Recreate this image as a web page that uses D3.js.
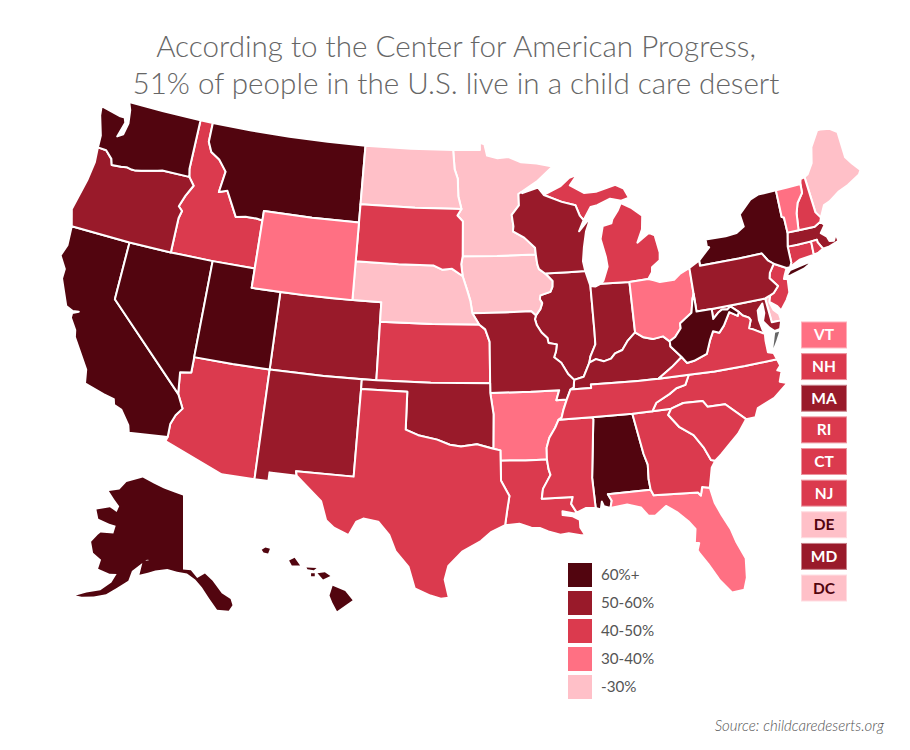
<!DOCTYPE html>
<html>
<head>
<meta charset="utf-8">
<script src="https://cdnjs.cloudflare.com/ajax/libs/d3/7.8.5/d3.min.js"></script>
<style>
  html, body { margin: 0; padding: 0; background: #fff; }
  svg { display: block; }
  text { font-family: Lato, "Open Sans", sans-serif; }
  .state { stroke: #fff; stroke-width: 2; stroke-linejoin: round; }
</style>
</head>
<body>
<svg id="map" width="910" height="750"></svg>
<script>
// legend bands
const bandLabels = ['60%+', '50-60%', '40-50%', '30-40%', '-30%'];
const bandColors = ['#52050f', '#991a2a', '#db3a4e', '#ff7083', '#ffc0c8'];

// state -> band index
const band0 = ['WA', 'MT', 'CA', 'NV', 'UT', 'AK', 'HI', 'AL', 'NY', 'WV'];
const band1 = ['OR', 'CO', 'NM', 'OK', 'MO', 'IL', 'WI', 'IN', 'KY', 'PA', 'MA', 'MD'];
const band2 = ['ID', 'SD', 'KS', 'AZ', 'TX', 'LA', 'MS', 'GA', 'SC', 'NC', 'TN', 'VA', 'MI', 'NH', 'RI', 'CT', 'NJ'];
const band3 = ['WY', 'OH', 'AR', 'FL', 'VT'];
const band4 = ['ND', 'MN', 'IA', 'NE', 'ME', 'DE', 'DC'];

// small states listed in the side tiles
const tileStates = ['VT', 'NH', 'MA', 'RI', 'CT', 'NJ', 'DE', 'MD', 'DC'];

const titleLines = ['According to the Center for American Progress,', '51% of people in the U.S. live in a child care desert'];
const sourceText = 'Source: childcaredeserts.org';

// shared borders, [lon, lat]
const mnWi = [[-92.1,46.75],[-92.29,46.66],[-92.29,46.07],[-92.85,45.6],[-92.75,45],[-92.8,44.75],[-92,44.4],[-91.25,43.85],[-91.22,43.5]];
const iaWi = [[-91.22,43.5],[-91.15,43],[-91.05,42.75],[-90.64,42.51]];
const iaIl = [[-90.64,42.51],[-90.42,42.33],[-90.15,42.1],[-90.18,41.8],[-90.34,41.55],[-91.05,41.4],[-91.1,41.2],[-90.95,41],[-91.1,40.7],[-91.42,40.38]];
const moIl = [[-91.42,40.38],[-91.5,40.2],[-91.4,39.9],[-91.1,39.5],[-90.72,39.2],[-90.67,38.95],[-90.12,38.85],[-90.2,38.5],[-90.35,38.2],[-89.9,37.9],[-89.5,37.3],[-89.13,36.98]];
const moKy = [[-89.13,36.98],[-89.2,36.6],[-89.42,36.5]];
const moTn = [[-89.42,36.5],[-89.7,36]];
const arTn = [[-89.7,36],[-89.95,35.5],[-90.1,35.1],[-90.3,35]];
const arMs = [[-90.3,35],[-90.55,34.6],[-90.95,34.1],[-91.15,33.6],[-91.17,33]];
const laMs = [[-91.17,33],[-91.1,32.5],[-91,32.2],[-91.5,31.5],[-91.6,31],[-89.73,31],[-89.85,30.65],[-89.55,30.18]];
const ilKy = [[-89.13,36.98],[-88.5,37.1],[-88.05,37.8]];
const inKy = [[-88.05,37.8],[-87.6,37.95],[-87.1,37.8],[-86.6,37.9],[-86.3,38.15],[-85.8,38.28],[-85.4,38.7],[-84.82,39.1]];
const ohKy = [[-84.82,39.1],[-84.3,38.8],[-83.7,38.65],[-83,38.72],[-82.6,38.42]];
const ohWv = [[-82.6,38.42],[-82.2,38.6],[-81.75,39],[-81.75,39.25],[-80.87,39.7],[-80.65,40.4],[-80.52,40.64]];
const ilIn = [[-88.05,37.8],[-87.95,38.1],[-87.55,38.7],[-87.53,39.35],[-87.53,41.7]];
const kyWv = [[-82.6,38.42],[-82.6,38.15],[-81.97,37.54]];
const kyVa = [[-81.97,37.54],[-82.7,37.1],[-83.67,36.6]];
const kyTn = [[-83.67,36.6],[-85,36.62],[-86.5,36.65],[-88.07,36.68],[-88.07,36.5],[-89.42,36.5]];
const vaTn = [[-83.67,36.6],[-81.68,36.59]];
const vaNc = [[-81.68,36.59],[-80,36.54],[-78,36.54],[-75.87,36.55]];
const tnNc = [[-81.68,36.59],[-82,36.1],[-82.6,36],[-83.1,35.75],[-84,35.4],[-84.32,34.99]];
const tnGa = [[-84.32,34.99],[-85.6,34.98]];
const tnAl = [[-85.6,34.98],[-88.2,35]];
const tnMs = [[-88.2,35],[-90.3,35]];
const ncGa = [[-84.32,34.99],[-83.11,35]];
const ncSc = [[-83.11,35],[-82.3,35.2],[-81.05,35.15],[-80.8,34.82],[-79.68,34.8],[-78.55,33.86]];
const gaSc = [[-83.11,35],[-83.35,34.7],[-82.75,34],[-81.95,33.5],[-81.45,32.8],[-81.12,32.1],[-80.87,32.03]];
const gaAl = [[-85.6,34.98],[-85.18,32.87],[-85,32.3],[-85.05,31.55],[-85,31]];
const alFl = [[-85,31],[-87.6,31],[-87.4,30.65],[-87.52,30.28]];
const gaFl = [[-85,31],[-84.86,30.7],[-82.2,30.55],[-82.05,30.37],[-81.9,30.8],[-81.45,30.7]];
const alMs = [[-88.2,35],[-88.1,34.9],[-88.47,31.9],[-88.4,30.35]];
const vaWv = [[-81.97,37.54],[-81.68,37.2],[-81.2,37.25],[-80.3,37.5],[-79.95,38.15],[-79.65,38.58],[-79.25,38.45],[-78.87,38.77],[-78.35,39.4],[-77.83,39.13],[-77.72,39.32]];
const wvMd = [[-77.72,39.32],[-78.2,39.68],[-78.45,39.55],[-78.8,39.6],[-79.1,39.47],[-79.49,39.2],[-79.48,39.72]];
const wvPa = [[-79.48,39.72],[-80.52,39.72],[-80.52,40.64]];
const mdPa = [[-79.48,39.72],[-77.5,39.72],[-75.79,39.72]];
const mdDe = [[-75.79,39.72],[-75.69,38.46],[-75.05,38.45]];
const vaMd = [[-76.3,37.95],[-77,38.3],[-77.25,38.4],[-77.04,38.79],[-77.12,38.93],[-77.5,39.1],[-77.72,39.32]];
const dePa = [[-75.79,39.72],[-75.41,39.82]];
const paNj = [[-75.41,39.82],[-75.14,39.9],[-74.75,40.2],[-75.2,40.68],[-75.1,40.95],[-74.7,41.36]];
const paNy = [[-74.7,41.36],[-75.05,41.6],[-75.35,42],[-77,42],[-79.76,42],[-79.76,42.27]];
const paOh = [[-80.52,41.98],[-80.52,40.64]];
const njNy = [[-74.7,41.36],[-73.9,41],[-74.15,40.65]];
const nyCt = [[-73.65,41],[-73.5,41.2],[-73.48,42.05]];
const nyMa = [[-73.48,42.05],[-73.26,42.75]];
const nyVt = [[-73.26,42.75],[-73.25,43.55],[-73.4,43.6],[-73.35,45.01]];
const vtMa = [[-73.26,42.75],[-72.46,42.73]];
const vtNh = [[-72.46,42.73],[-72.3,43.6],[-72.05,44.1],[-71.55,44.55],[-71.5,45.01]];
const nhMa = [[-72.46,42.73],[-71.3,42.7],[-70.82,42.87]];
const nhMe = [[-70.7,43.07],[-70.98,43.4],[-71.08,45.3]];
const maCt = [[-73.48,42.05],[-72.8,42.03],[-71.8,42.02]];
const maRi = [[-71.8,42.02],[-71.38,42.02],[-71.38,41.9],[-71.13,41.5]];
const ctRi = [[-71.8,42.02],[-71.85,41.32]];
const ohMi = [[-84.8,41.7],[-83.47,41.73]];
const ohIn = [[-84.8,41.7],[-84.82,39.1]];
const inMi = [[-86.82,41.76],[-84.8,41.7]];
const ilWi = [[-87.8,42.49],[-89,42.5],[-90.64,42.51]];
const wiMi = [[-90.4,46.55],[-89.1,46.13],[-88.1,45.9],[-87.85,45.35],[-87.6,45.1]];
const mnIa = [[-91.22,43.5],[-94,43.5],[-96.45,43.5]];
const iaSd = [[-96.45,43.5],[-96.55,43.1],[-96.45,42.49]];
const iaNe = [[-96.45,42.49],[-96.1,41.7],[-95.9,41.2],[-95.77,40.58]];
const iaMo = [[-95.77,40.58],[-93.5,40.6],[-91.73,40.61],[-91.42,40.38]];
const moNe = [[-95.77,40.58],[-95.31,40]];
const moKs = [[-95.31,40],[-94.9,39.75],[-94.61,39.11],[-94.62,37]];
const moOk = [[-94.62,37],[-94.62,36.5]];
const moAr = [[-94.62,36.5],[-92,36.5],[-90.15,36.5],[-90.37,36],[-89.7,36]];
const arOk = [[-94.62,36.5],[-94.43,35.4],[-94.48,33.64]];
const arTx = [[-94.48,33.64],[-94.04,33.55],[-94.04,33.02]];
const arLa = [[-94.04,33.02],[-92.5,33],[-91.17,33]];
const laTx = [[-94.04,33.02],[-94.04,31.99],[-93.55,31.2],[-93.7,30.5],[-93.85,29.7]];
const okTx = [[-94.48,33.64],[-95.5,33.88],[-96.5,33.77],[-97.2,33.85],[-98,34.1],[-99.2,34.3],[-100,34.56],[-100,36.5],[-103,36.5]];
const okKs = [[-102.05,37],[-98.5,37],[-94.62,37]];
const ksNe = [[-102.05,40],[-98.5,40],[-95.31,40]];
const neSd = [[-104.05,43],[-101,43],[-98.5,43],[-97.9,42.8],[-97.2,42.85],[-96.45,42.49]];
const ndSd = [[-104.05,45.94],[-100,45.94],[-96.56,45.94]];
const ndMn = [[-97.23,49],[-97.1,48],[-96.85,47.5],[-96.8,46.6],[-96.56,45.94]];
const sdMn = [[-96.56,45.94],[-96.85,45.6],[-96.45,45.3],[-96.45,43.5]];
const mtId = [[-116.05,49],[-116.05,48],[-115.7,47.5],[-115,47.2],[-114.35,46.65],[-114.55,45.55],[-113.95,45.7],[-113.45,45.05],[-113,44.45],[-112.3,44.55],[-111.5,44.55],[-111.05,44.5]];
const idWa = [[-117.03,49],[-117.04,46.4],[-116.92,46]];
const idOr = [[-116.92,46],[-116.47,45.6],[-116.9,45],[-117.2,44.4],[-116.9,44.2],[-117.03,43.8],[-117.03,42]];
const orWa = [[-124.05,46.27],[-123.4,46.25],[-122.85,45.9],[-122.7,45.6],[-122,45.65],[-121.6,45.7],[-121.2,45.65],[-120.9,45.65],[-120.5,45.72],[-119.8,45.85],[-119.3,45.93],[-118.98,46],[-116.92,46]];
const nvCa = [[-120,42],[-120,39],[-114.6,35]];
const azCa = [[-114.6,35],[-114.15,34.3],[-114.5,33.9],[-114.72,33.4],[-114.72,32.72]];
const azNv = [[-114.04,37],[-114.04,36.2],[-114.75,36.1],[-114.6,35]];

const rev = a => a.slice().reverse();
const ring = (...parts) => parts.flat();

// state outlines
const AL = ring(tnAl, alMs, [[-88.1,30.25],[-88,30.65],[-87.9,30.4]], rev(alFl), rev(gaAl));
const AZ = ring([[-109.05,37],[-111.5,37]], azNv, azCa, [[-114.8,32.5],[-111.07,31.33],[-109.05,31.33],[-109.05,34]]);
const AR = ring(moAr, arTn, arMs, rev(arLa), rev(arTx), rev(arOk));
const CA = ring(nvCa, azCa, [[-117.12,32.53],[-117.25,32.9],[-117.9,33.6],[-118.4,33.75],[-118.5,34.03],[-119.2,34.15],[-120.5,34.45],[-120.65,35.15],[-121.9,36.6],[-122,36.95],[-122.5,37.5],[-122.5,37.75],[-122.1,37.9],[-122.5,37.85],[-123,38],[-123.8,39.3],[-123.8,39.8],[-124.35,40.4],[-124.1,41],[-124.2,42]]);
const CO = [[-109.05,41],[-105.5,41],[-102.05,41],[-102.05,37],[-105.5,37],[-109.05,37]];
const CT = ring(maCt, ctRi, [[-72.9,41.25]], nyCt);
const DE = ring(dePa, [[-75.55,39.45],[-75.4,39.05],[-75.1,38.8]], rev(mdDe));
const DC = [[-77.12,38.93],[-77.04,39],[-76.91,38.89],[-77.04,38.79]];
const FL = ring(alFl, [[-86.5,30.38],[-85.7,30.15],[-85.3,29.68],[-84.9,29.65],[-84.2,30.08],[-83.6,29.7],[-83,29.15],[-82.65,28.7],[-82.8,28],[-82.55,27.95],[-82.7,27.6],[-82.6,27.4],[-82.2,26.8],[-81.8,26.1],[-81.7,25.9],[-81.1,25.15],[-80.4,25.2],[-80.15,25.8],[-80.03,26.8],[-80.4,27.7],[-80.6,28.4],[-81,29.2],[-81.3,29.9]], rev(gaFl));
const GA = ring(tnGa, gaAl, gaFl, [[-81.3,31.2],[-81.15,31.7]], rev(gaSc), rev(ncGa));
const ID = ring([[-117.03,49]], mtId, [[-111.05,42],[-114.04,42]], rev(idOr), rev(idWa));
const IL = ring(ilWi, iaIl, moIl, ilKy, ilIn, [[-87.55,41.75]]);
const IN = ring(rev(ilIn), inKy, rev(ohIn), rev(inMi), [[-87.2,41.65]]);
const IA = ring(iaWi, iaIl, rev(iaMo), rev(iaNe), rev(iaSd), rev(mnIa));
const KS = ring(ksNe, moKs, rev(okKs));
const KY = ring(ilKy, inKy, ohKy, kyWv, kyVa, kyTn, rev(moKy));
const LA = ring(arLa, laMs, [[-89.7,30.15],[-90.4,30.3],[-90.4,30.1],[-89.8,30],[-89.4,29.8],[-89.4,29.4],[-89.15,29],[-89.4,29],[-90.1,29.15],[-90.6,29.1],[-91.3,29.3],[-91.8,29.5],[-92.3,29.53],[-93,29.75]], rev(laTx));
const ME = ring([[-70.7,43.07],[-70.25,43.65],[-69.8,43.75],[-69,44.1],[-68.2,44.3],[-67.2,44.65],[-67,44.85],[-67.45,45.3],[-67.8,45.7],[-67.8,47.07],[-68.3,47.35],[-69,47.45],[-69.23,47.46],[-70,46.7],[-70.3,45.9],[-70.8,45.4]], rev(nhMe));
const MD = ring(vaMd, wvMd, mdPa, mdDe, [[-75.25,38.03],[-75.62,37.99],[-75.9,38.2],[-76.25,38.6],[-76.05,39],[-76.05,39.5],[-76.45,39.2],[-76.5,38.7],[-76.4,38.2]]);
const MA = ring(nyMa, vtMa, nhMa, [[-70.6,42.65],[-71,42.3],[-70.65,42.05],[-70.55,41.8],[-70.25,41.75],[-70,42.05],[-69.95,41.68],[-70.65,41.53]], rev(maRi), rev(maCt));
const MI_LOWER = ring(rev(ohMi), rev(inMi), [[-86.6,41.9],[-86.2,42.6],[-86.25,43.1],[-86.5,44.05],[-86.25,44.7],[-85.6,44.8],[-85.5,45],[-85.05,45.4],[-84.75,45.78],[-84,45.45],[-83.3,45],[-83.45,44.3],[-83.9,43.65],[-83.35,43.9],[-83,44.07],[-82.6,43.9],[-82.42,43],[-82.5,42.6],[-83.1,42.3],[-83.15,42.05]]);
const MI_UPPER = ring(wiMi, [[-87,45.75],[-86.5,45.8],[-85.5,46.07],[-84.7,45.9],[-84.1,46],[-84.4,46.5],[-85,46.75],[-86.5,46.5],[-87.4,46.5],[-88.4,46.95],[-87.8,47.47],[-88.4,47.35],[-89.1,46.95]]);
const MN = ring([[-97.23,49],[-95.15,49],[-95.15,49.38],[-94.8,49.3],[-94.6,48.7],[-93.8,48.55],[-92.95,48.6],[-92,48.3],[-90.8,48.2],[-89.6,48],[-90.8,47.3]], mnWi, mnIa, rev(sdMn), rev(ndMn));
const MS = ring(tnMs, arMs, laMs, [[-89,30.38]], rev(alMs));
const MO = ring(iaMo, moIl, moKy, moTn, rev(moAr), rev(moOk), rev(moKs), rev(moNe));
const MT = ring([[-116.05,49],[-113,49],[-110,49],[-107,49],[-104.05,49],[-104.05,45],[-107.5,45],[-111.05,45]], rev(mtId));
const NE = ring(neSd, iaNe, moNe, rev(ksNe), [[-102.05,41],[-104.05,41]]);
const NV = ring([[-120,42],[-117.03,42],[-114.04,42],[-114.04,37]], azNv, rev(nvCa));
const NH = ring(nhMa, nhMe, [[-71.4,45.25]], rev(vtNh));
const NJ = ring(paNj, njNy, [[-74.25,40.48],[-74,40.45],[-74.1,39.75],[-74.4,39.4],[-74.9,38.95],[-75.1,39.2],[-75.55,39.5]]);
const NM = ring([[-109.05,37],[-105.5,37],[-103,37],[-103,36.5],[-103.06,32],[-106.6,32],[-106.53,31.78],[-108.2,31.78],[-108.2,31.33],[-109.05,31.33],[-109.05,34]]);
const NY = ring(paNy, [[-78.9,42.85],[-79.05,42.9],[-79.05,43.27],[-77.6,43.25],[-76.8,43.3],[-76.2,43.55],[-76.3,44.2],[-75.3,44.85],[-74.7,45]], rev(nyVt), rev(nyMa), rev(nyCt), [[-73.9,41]]);
const LONG_ISLAND = [[-74.03,40.62],[-73.75,40.58],[-72.75,40.75],[-71.9,41.05],[-72.6,40.98],[-73.7,40.85]];
const NC = ring(vaNc, [[-75.75,36.2],[-76,36],[-75.75,35.9],[-76,35.4],[-75.55,35.25],[-76.55,34.65],[-77.7,34.3],[-77.95,33.87]], rev(ncSc), rev(ncGa), rev(tnNc));
const ND = ring([[-104.05,49],[-100.5,49]], ndMn, rev(ndSd));
const OH = ring(paOh, rev(ohWv), rev(ohKy), rev(ohIn), ohMi, [[-83.1,41.63],[-82.7,41.5],[-81.7,41.5],[-81.25,41.75]]);
const OK = ring([[-103,37]], okKs, moOk, arOk, okTx.slice(1));
const OR = ring([[-124.05,46.27],[-123.95,45.5],[-124.1,44.5],[-124.55,42.84],[-124.2,42],[-120,42]], rev(idOr), rev(orWa));
const PA = ring(paOh, rev(wvPa), mdPa, dePa, paNj, paNy);
const RI = ring(maRi, [[-71.5,41.37]], rev(ctRi));
const SC = ring(ncSc, [[-79.2,33.2],[-79.9,32.7],[-80.45,32.3]], rev(gaSc));
const SD = ring(ndSd, sdMn, iaSd, rev(neSd));
const TN = ring(kyTn, moTn, arTn, rev(tnMs), rev(tnAl), rev(tnGa), rev(tnNc), rev(vaTn));
const TX = ring(rev(okTx), arTx, laTx, [[-94.7,29.35],[-95.3,28.9],[-96.4,28.35],[-97.2,27.6],[-97.4,26.9],[-97.15,25.96],[-97.6,25.9],[-98.2,26.05],[-99.1,26.4],[-99.5,27.5],[-100.3,28.3],[-100.7,29.1],[-101.4,29.77],[-102.3,29.88],[-102.7,29.7],[-103.1,28.98],[-104,29.3],[-104.5,29.65],[-104.9,30.6],[-106,31.4],[-106.53,31.78],[-106.6,32],[-103.06,32]]);
const UT = [[-111.05,41],[-109.05,41],[-109.05,37],[-111.5,37],[-114.04,37],[-114.04,42],[-111.05,42]];
const VT = ring(vtMa, vtNh, [[-72.5,45.01]], rev(nyVt));
const VA = ring(rev(vaTn), rev(kyVa), vaWv, rev(vaMd), [[-76.35,37.6],[-76.35,37],[-76,36.9]], rev(vaNc));
const VA_SHORE = [[-75.95,37.15],[-75.65,37.5],[-75.35,37.9],[-75.62,37.9]];
const WA = ring([[-117.03,49],[-120,49],[-122.75,49],[-122.5,48.6],[-122.35,47.9],[-122.5,47.3],[-122.9,47.1],[-122.6,47.9],[-122.75,48.15],[-123.1,48.15],[-124.7,48.38],[-124.6,47.9],[-124.1,46.9]], orWa, rev(idWa));
const WV = ring(kyWv, vaWv, wvMd, wvPa, rev(ohWv));
const WI = ring([[-92,46.7],[-90.8,46.95]], wiMi, [[-88,44.55],[-87.05,45.25],[-87.5,44.5],[-87.75,43.7],[-87.9,43]], ilWi, rev(iaWi), rev(mnWi));
const WY = [[-111.05,45],[-107.5,45],[-104.05,45],[-104.05,43],[-104.05,41],[-107.5,41],[-111.05,41]];
const AK = [[-141,69.65],[-141,60.3],[-139,60.2],[-137.5,59.2],[-135.5,59.7],[-133.8,58.7],[-132,57],[-130.2,56.1],[-130,55.3],[-131,54.7],[-133.5,55],[-135,56.5],[-136.5,58],[-138,59],[-140,59.8],[-142.5,60],[-145,60.3],[-148,60],[-149.8,59.6],[-151.8,59.2],[-151.5,60.9],[-149.8,61.2],[-150.5,61.2],[-152,60.5],[-153.8,59.5],[-154.2,58.2],[-156.5,57],[-158.5,55.9],[-161,55.2],[-163.5,54.7],[-164.8,54.6],[-162.8,55.4],[-160,56.2],[-158,57.5],[-157.3,58.7],[-159,58.5],[-162,58.7],[-162,59.9],[-164.5,60.4],[-166,61.6],[-165,62.7],[-164.5,63.1],[-161,63.5],[-161,64.5],[-163,64.5],[-166.5,64.6],[-168.1,65.6],[-164.5,66.5],[-162,66.2],[-161.8,67],[-164,67.6],[-166.7,68.35],[-163.5,69],[-162,70.2],[-156.6,71.35],[-152,70.85],[-148,70.4],[-144,70]];
const HI_KAUAI = [[-159.75,22.1],[-159.55,22.22],[-159.3,22.15],[-159.4,21.9],[-159.65,21.95]];
const HI_OAHU = [[-158.25,21.55],[-157.95,21.7],[-157.65,21.3],[-158.1,21.3]];
const HI_MOLOKAI = [[-157.3,21.2],[-156.75,21.17],[-156.9,21.05],[-157.25,21.1]];
const HI_LANAI = [[-157.05,20.9],[-156.85,20.9],[-156.85,20.75],[-157.05,20.75]];
const HI_MAUI = [[-156.7,20.9],[-156.3,20.95],[-156,20.75],[-156.4,20.58]];
const HI_BIG = [[-155.88,20.25],[-155.2,19.98],[-154.8,19.5],[-155.65,18.95],[-155.9,19.4],[-156.05,19.75]];

const lower48 = {AL:[AL],AZ:[AZ],AR:[AR],CA:[CA],CO:[CO],CT:[CT],DE:[DE],DC:[DC],FL:[FL],GA:[GA],ID:[ID],IL:[IL],IN:[IN],IA:[IA],KS:[KS],KY:[KY],LA:[LA],ME:[ME],MD:[MD],MA:[MA],MI:[MI_LOWER,MI_UPPER],MN:[MN],MS:[MS],MO:[MO],MT:[MT],NE:[NE],NV:[NV],NH:[NH],NJ:[NJ],NM:[NM],NY:[NY,LONG_ISLAND],NC:[NC],ND:[ND],OH:[OH],OK:[OK],OR:[OR],PA:[PA],RI:[RI],SC:[SC],SD:[SD],TN:[TN],TX:[TX],UT:[UT],VT:[VT],VA:[VA],WA:[WA],WV:[WV],WI:[WI],WY:[WY]};

const bands = [band0, band1, band2, band3, band4];
const colorOf = code => bandColors[bands.findIndex(b => b.includes(code))];

const svg = d3.select('#map');

// title
svg.selectAll('.title').data(titleLines).join('text')
  .attr('class', 'title')
  .attr('x', 456)
  .attr('y', (d, i) => 57 + i * 37)
  .attr('text-anchor', 'middle')
  .attr('font-size', 29.6)
  .attr('font-weight', 300)
  .attr('fill', '#666')
  .text(d => d);

// projections
const mainProj = d3.geoAlbers().scale(1110).translate([460, 350]);
const akProj = d3.geoConicEqualArea().parallels([55, 65]).rotate([141, 0]).center([0, 63]).scale(455).translate([183, 548]);
const hiProj = d3.geoConicEqualArea().parallels([8, 18]).rotate([157, 0]).center([0, 20.5]).scale(1120).translate([312, 581]);

// feature with rings wound the way d3.geoPath wants them
function feature(rings) {
  const coordinates = rings.map(r => {
    const closed = [...r, r[0]];
    const poly = {type: 'Polygon', coordinates: [closed]};
    return [d3.geoArea(poly) > 2 * Math.PI ? closed.reverse() : closed];
  });
  return {type: 'MultiPolygon', coordinates};
}

const mainPath = d3.geoPath(mainProj);
const stateRows = Object.entries(lower48).map(([code, rings]) => ({code, geo: feature(rings)}));

svg.append('g').selectAll('path').data(stateRows).join('path')
  .attr('class', 'state')
  .attr('fill', d => colorOf(d.code))
  .attr('d', d => mainPath(d.geo));

svg.append('path')
  .attr('fill', '#666')
  .attr('d', mainPath(feature([VA_SHORE])));

svg.append('path')
  .attr('fill', colorOf('AK'))
  .attr('d', d3.geoPath(akProj)(feature([AK])));

svg.append('path')
  .attr('fill', colorOf('HI'))
  .attr('d', d3.geoPath(hiProj)(feature([HI_KAUAI, HI_OAHU, HI_MOLOKAI, HI_LANAI, HI_MAUI, HI_BIG])));

// side tiles
const tileY = d3.scaleBand().domain(tileStates).range([322, 322 + 31 * tileStates.length]).paddingInner(0.18).paddingOuter(0);
const tiles = svg.append('g').selectAll('g').data(tileStates).join('g')
  .attr('transform', d => `translate(801.5,${tileY(d)})`);
tiles.append('rect')
  .attr('width', 45)
  .attr('height', tileY.bandwidth())
  .attr('fill', d => colorOf(d))
  .attr('stroke', d => d3.interpolateRgb(colorOf(d), '#fff')(0.45))
  .attr('stroke-width', 1);
tiles.append('text')
  .attr('x', 22.5)
  .attr('y', tileY.bandwidth() / 2 + 5.5)
  .attr('text-anchor', 'middle')
  .attr('font-size', 15.5)
  .attr('font-weight', 700)
  .attr('fill', d => band4.includes(d) ? bandColors[0] : '#fff')
  .text(d => d);

// legend
const legY = d3.scalePoint().domain(bandLabels).range([563, 563 + 28 * 4]);
const leg = svg.append('g').selectAll('g').data(bandLabels).join('g')
  .attr('transform', d => `translate(568,${legY(d)})`);
leg.append('rect')
  .attr('width', 24)
  .attr('height', 24)
  .attr('fill', (d, i) => bandColors[i]);
leg.append('text')
  .attr('x', 33)
  .attr('y', 17)
  .attr('font-size', 15.2)
  .attr('fill', '#555')
  .text(d => d);

svg.append('text')
  .attr('x', 884)
  .attr('y', 731)
  .attr('text-anchor', 'end')
  .attr('font-size', 15)
  .attr('font-style', 'italic')
  .attr('font-weight', 300)
  .attr('fill', '#555')
  .text(sourceText);
</script>
</body>
</html>
